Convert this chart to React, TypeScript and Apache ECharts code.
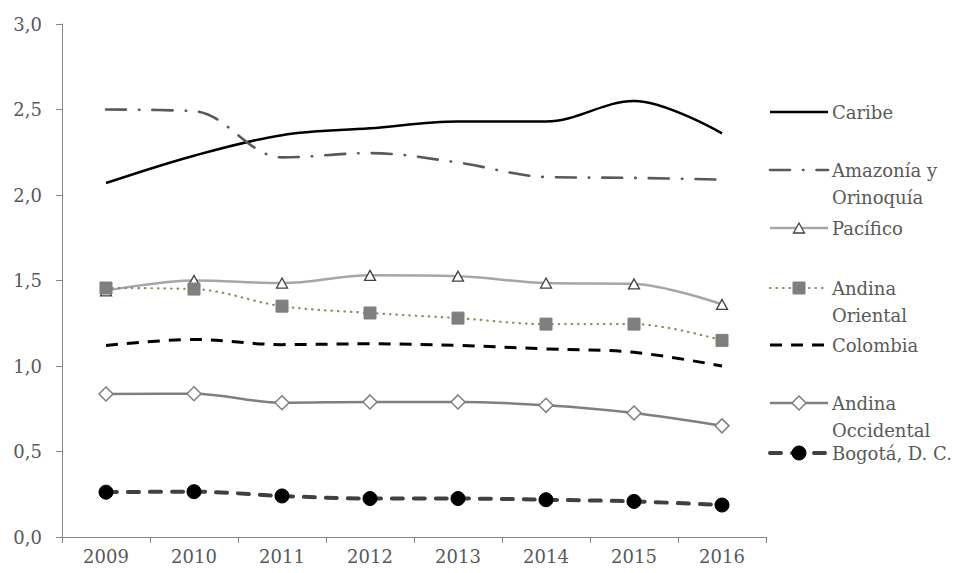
import React, { useEffect, useRef } from "react";
import * as echarts from "echarts";

const years = ["2009", "2010", "2011", "2012", "2013", "2014", "2015", "2016"];
const caribe = [2.07, 2.23, 2.35, 2.39, 2.43, 2.43, 2.55, 2.36];
const amazonia = [2.5, 2.49, 2.22, 2.245, 2.19, 2.105, 2.1, 2.09];
const pacifico = [1.44, 1.5, 1.485, 1.53, 1.525, 1.485, 1.48, 1.36];
const andinaOriental = [1.456, 1.45, 1.35, 1.31, 1.28, 1.245, 1.245, 1.15];
const colombia = [1.12, 1.155, 1.125, 1.13, 1.12, 1.1, 1.08, 1.0];
const andinaOccidental = [0.836, 0.838, 0.785, 0.79, 0.79, 0.77, 0.725, 0.65];
const bogota = [0.262, 0.265, 0.24, 0.225, 0.225, 0.218, 0.208, 0.187];
const yTicks = [0, 0.5, 1, 1.5, 2, 2.5, 3];

const FONT = "DejaVu Serif";
const TXT = "#595959";

type Def = {
  name: string;
  label: string[];
  data: number[];
  color: string;
  width: number;
  dash: any;
  cap: string;
  symbol: string;
  symbolSize: any;
  symFill: string;
  symStroke: string;
  symWidth: number;
  legendY: number;
};

const defs: Def[] = [
  { name: "Caribe", label: ["Caribe"], data: caribe, color: "#000000", width: 2.5, dash: "solid", cap: "butt", symbol: "none", symbolSize: 0, symFill: "", symStroke: "", symWidth: 0, legendY: 112 },
  { name: "Amazonía y Orinoquía", label: ["Amazonía y", "Orinoquía"], data: amazonia, color: "#595959", width: 2.6, dash: [20, 13, 0.5, 13], cap: "round", symbol: "none", symbolSize: 0, symFill: "", symStroke: "", symWidth: 0, legendY: 170 },
  { name: "Pacífico", label: ["Pacífico"], data: pacifico, color: "#a6a6a6", width: 2.5, dash: "solid", cap: "butt", symbol: "triangle", symbolSize: [11, 10], symFill: "#ffffff", symStroke: "#404040", symWidth: 1.3, legendY: 228 },
  { name: "Andina Oriental", label: ["Andina", "Oriental"], data: andinaOriental, color: "#948a54", width: 2.2, dash: [0.5, 6], cap: "round", symbol: "rect", symbolSize: 12, symFill: "#7f7f7f", symStroke: "#7f7f7f", symWidth: 1, legendY: 288 },
  { name: "Colombia", label: ["Colombia"], data: colombia, color: "#000000", width: 3, dash: [12, 9], cap: "butt", symbol: "none", symbolSize: 0, symFill: "", symStroke: "", symWidth: 0, legendY: 345 },
  { name: "Andina Occidental", label: ["Andina", "Occidental"], data: andinaOccidental, color: "#7f7f7f", width: 2.5, dash: "solid", cap: "butt", symbol: "diamond", symbolSize: 14, symFill: "#ffffff", symStroke: "#7f7f7f", symWidth: 1.5, legendY: 403 },
  { name: "Bogotá, D. C.", label: ["Bogotá, D. C."], data: bogota, color: "#404040", width: 4, dash: [11, 11], cap: "round", symbol: "circle", symbolSize: 14, symFill: "#000000", symStroke: "#000000", symWidth: 1, legendY: 453 },
];

function legendSymbol(d: Def, cx: number, cy: number): any {
  const style = { fill: d.symFill, stroke: d.symStroke, lineWidth: d.symWidth };
  if (d.symbol === "triangle") {
    return { type: "polygon", shape: { points: [[cx, cy - 5], [cx + 5.5, cy + 5], [cx - 5.5, cy + 5]] }, style, z: 10 };
  }
  if (d.symbol === "rect") {
    return { type: "rect", shape: { x: cx - 6, y: cy - 6, width: 12, height: 12 }, style, z: 10 };
  }
  if (d.symbol === "diamond") {
    return { type: "polygon", shape: { points: [[cx, cy - 7], [cx + 7, cy], [cx, cy + 7], [cx - 7, cy]] }, style, z: 10 };
  }
  if (d.symbol === "circle") {
    return { type: "circle", shape: { cx, cy, r: 7 }, style, z: 10 };
  }
  return null;
}

export default function App() {
  const ref = useRef<HTMLDivElement>(null);
  useEffect(() => {
    document.body.style.margin = "0";
    if (!ref.current) return;
    const chart = echarts.init(ref.current, null, { renderer: "svg" });
    const x0 = 770;
    const x1 = 828;
    const graphics: any[] = [];
    defs.forEach((d) => {
      graphics.push({
        type: "line",
        shape: { x1: x0, y1: d.legendY, x2: x1, y2: d.legendY },
        style: { stroke: d.color, lineWidth: d.width, lineDash: d.dash === "solid" ? null : d.dash, lineCap: d.cap },
      });
      const s = legendSymbol(d, (x0 + x1) / 2, d.legendY);
      if (s) graphics.push(s);
      d.label.forEach((t, i) => {
        graphics.push({
          type: "text",
          x: 832,
          y: d.legendY + i * 27.5,
          style: { text: t, fill: TXT, font: `18px "${FONT}"`, textVerticalAlign: "middle", textAlign: "left" },
        });
      });
    });

    chart.setOption({
      animation: false,
      backgroundColor: "#ffffff",
      grid: { left: 62, right: 195, top: 24, bottom: 36, containLabel: false },
      xAxis: {
        type: "category",
        data: years,
        boundaryGap: true,
        axisLine: { lineStyle: { color: "#868686", width: 1 } },
        axisTick: { show: true, length: 6, lineStyle: { color: "#868686" } },
        axisLabel: { color: TXT, fontFamily: FONT, fontSize: 18, margin: 10 },
        splitLine: { show: false },
      },
      yAxis: {
        type: "value",
        min: 0,
        max: 3,
        interval: 0.5,
        axisLine: { show: true, lineStyle: { color: "#868686", width: 1 } },
        axisTick: { show: true, length: 6, lineStyle: { color: "#868686" } },
        axisLabel: {
          color: TXT,
          fontFamily: FONT,
          fontSize: 18,
          margin: 20,
          formatter: (v: number) => (yTicks.includes(v) ? v.toFixed(1).replace(".", ",") : ""),
        },
        splitLine: { show: false },
      },
      series: defs.map((d) => ({
        name: d.name,
        type: "line",
        data: d.data,
        smooth: 0.35,
        symbol: d.symbol,
        symbolSize: d.symbolSize,
        showSymbol: d.symbol !== "none",
        lineStyle: { color: d.color, width: d.width, type: d.dash, cap: d.cap },
        itemStyle: { color: d.symFill || d.color, borderColor: d.symStroke || d.color, borderWidth: d.symWidth },
        emphasis: { disabled: true },
        z: 2,
      })),
      graphic: graphics,
    });
    return () => chart.dispose();
  }, []);
  return <div ref={ref} style={{ width: 961, height: 573 }} />;
}
